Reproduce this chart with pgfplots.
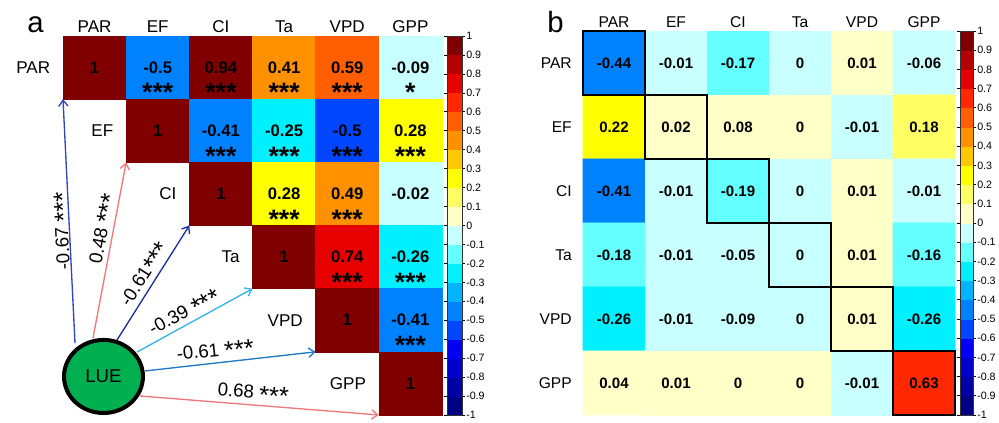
\documentclass[border=0pt]{standalone}
\usepackage{fontspec}
\setmainfont{Liberation Sans}
\usepackage{pgfplots}
\pgfplotsset{compat=1.18}
\usepackage{pgfplotstable}
\usetikzlibrary{arrows.meta}

\definecolor{lueGreen}{RGB}{0,176,80}
\definecolor{arA}{RGB}{50,70,190}
\definecolor{arB}{RGB}{240,120,120}
\definecolor{arC}{RGB}{30,45,160}
\definecolor{arD}{RGB}{50,180,235}
\definecolor{arE}{RGB}{30,120,200}

\pgfplotsset{
  colormap={corr}{
    rgb255=(0,0,130)
    rgb255=(0,0,165)
    rgb255=(0,0,205)
    rgb255=(0,0,245)
    rgb255=(0,70,255)
    rgb255=(0,130,255)
    rgb255=(0,180,255)
    rgb255=(0,240,255)
    rgb255=(100,255,255)
    rgb255=(200,255,255)
    rgb255=(255,255,200)
    rgb255=(255,255,100)
    rgb255=(255,255,0)
    rgb255=(255,200,0)
    rgb255=(255,145,0)
    rgb255=(255,95,0)
    rgb255=(255,40,0)
    rgb255=(230,0,0)
    rgb255=(180,0,0)
    rgb255=(128,0,0)
  },
  colormap access=piecewise constant,
}

% panel a: x = column, y = row, c = colour value, v = shown value
\pgfplotstableread{
x y c v
0 0 1 1
1 0 -0.45 -0.5
2 0 0.94 0.94
3 0 0.41 0.41
4 0 0.59 0.59
5 0 -0.09 -0.09
1 1 1 1
2 1 -0.41 -0.41
3 1 -0.25 -0.25
4 1 -0.55 -0.5
5 1 0.28 0.28
2 2 1 1
3 2 0.28 0.28
4 2 0.49 0.49
5 2 -0.02 -0.02
3 3 1 1
4 3 0.74 0.74
5 3 -0.26 -0.26
4 4 1 1
5 4 -0.41 -0.41
5 5 1 1
}\tabA

% panel b
\pgfplotstableread{
x y c v
0 0 -0.44 -0.44
1 0 -0.01 -0.01
2 0 -0.17 -0.17
3 0 -0.005 0
4 0 0.01 0.01
5 0 -0.06 -0.06
0 1 0.22 0.22
1 1 0.02 0.02
2 1 0.08 0.08
3 1 0.005 0
4 1 -0.01 -0.01
5 1 0.18 0.18
0 2 -0.41 -0.41
1 2 -0.01 -0.01
2 2 -0.19 -0.19
3 2 -0.005 0
4 2 0.01 0.01
5 2 -0.01 -0.01
0 3 -0.18 -0.18
1 3 -0.01 -0.01
2 3 -0.05 -0.05
3 3 -0.005 0
4 3 0.01 0.01
5 3 -0.16 -0.16
0 4 -0.26 -0.26
1 4 -0.01 -0.01
2 4 -0.09 -0.09
3 4 -0.005 0
4 4 0.01 0.01
5 4 -0.26 -0.26
0 5 0.04 0.04
1 5 0.01 0.01
2 5 0.005 0
3 5 0.005 0
4 5 -0.01 -0.01
5 5 0.63 0.63
}\tabB

\pgfplotsset{
  cbar/.style={
    colorbar,
    colorbar style={
      at={(parent axis.north east)}, anchor=north west, xshift=-4.79pt,
      width=#1, scale only axis,
      y dir=normal, hide x axis=false, hide y axis=false,
      ytick={-1,-0.9,-0.8,-0.7,-0.6,-0.5,-0.4,-0.3,-0.2,-0.1,0,0.1,0.2,0.3,0.4,0.5,0.6,0.7,0.8,0.9,1},
      yticklabels={-1,-0.9,-0.8,-0.7,-0.6,-0.5,-0.4,-0.3,-0.2,-0.1,0,0.1,0.2,0.3,0.4,0.5,0.6,0.7,0.8,0.9,1},
      yticklabel style={font=\fontsize{8}{8}\selectfont, inner xsep=1pt},
      tick align=outside, major tick length=2pt,
      axis line style={black!80, line width=0.6pt},
      tick style={black, line width=0.5pt},
    },
  },
}

\begin{document}
\begin{tikzpicture}
\useasboundingbox (0,0) rectangle (749.25pt,317.25pt);
\node[anchor=base west, font=\fontsize{22}{22}\selectfont, inner sep=0pt] at (20.25pt,292.5pt) {a};
\node[anchor=base west, font=\fontsize{22}{22}\selectfont, inner sep=0pt] at (410.25pt,292.5pt) {b};

% ---------------- panel a ----------------
\begin{axis}[
  at={(47.25pt,6pt)}, anchor=south west, scale only axis,
  width=284.25pt, height=284.25pt,
  xmin=-0.5, xmax=5.5, ymin=-0.5, ymax=5.5, y dir=reverse,
  hide axis, clip=false,
  colormap name=corr, point meta min=-1, point meta max=1,
  cbar=11.25pt,
]
\addplot[scatter, only marks, mark=square*, mark size=23.69pt,
  point meta=explicit,
  scatter/use mapped color={draw=mapped color, fill=mapped color}]
  table[x=x, y=y, meta=c] {\tabA};
\addplot[draw=none, mark=none, point meta=explicit symbolic,
  nodes near coords, nodes near coords align=center,
  every node near coord/.append style={anchor=center, font=\fontsize{12.5}{12.5}\selectfont\bfseries, text=black}]
  table[x=x, y=y, meta=v] {\tabA};
\addplot[draw=none, mark=none, nodes near coords={***},
  every node near coord/.append style={anchor=base, yshift=-25.7pt, inner sep=0pt, font=\fontsize{20}{20}\selectfont\bfseries, text=black}]
  coordinates {(1,0) (2,0) (3,0) (4,0) (2,1) (3,1) (4,1) (5,1) (3,2) (4,2) (4,3) (5,3) (5,4)};
\addplot[draw=none, mark=none, nodes near coords={*},
  every node near coord/.append style={anchor=base, yshift=-25.7pt, inner sep=0pt, font=\fontsize{20}{20}\selectfont\bfseries, text=black}]
  coordinates {(5,0)};

% column labels
\foreach \j/\t in {0/PAR,1/EF,2/CI,3/Ta,4/VPD,5/GPP}{
  \edef\tmp{\noexpand\node[anchor=base, font=\noexpand\fontsize{12.8}{12.8}\noexpand\selectfont, inner sep=0pt, yshift=3pt] at (axis cs:\j,-0.5) {\t};}\tmp
}
% row labels (diagonal)
\foreach \i/\t in {0/PAR,1/EF,2/CI,3/Ta,4/VPD,5/GPP}{
  \edef\tmp{\noexpand\node[anchor=east, font=\noexpand\fontsize{12.8}{12.8}\noexpand\selectfont, inner sep=0pt] at (axis cs:\i-0.7,\i) {\t};}\tmp
}

% arrows from LUE
\begin{scope}[line width=1pt, font=\fontsize{14}{14}\selectfont]
\draw[arA, -{Straight Barb[length=4.5pt,width=7pt]}] (axis cs:-0.31,4.36) -- node[sloped, allow upside down, above=-4pt, pos=0.46, inner sep=1pt, text=black] {-0.67 \raisebox{-3.5pt}{\fontsize{19}{19}\selectfont ***}} (axis cs:-0.5,0.5);
\draw[arB, -{Straight Barb[length=4.5pt,width=7pt]}] (axis cs:-0.025,4.281) -- node[sloped, allow upside down, above=-1pt, pos=0.61, inner sep=1pt, text=black] {0.48 \raisebox{-3.5pt}{\fontsize{19}{19}\selectfont ***}} (axis cs:0.5,1.5);
\draw[arC, -{Straight Barb[length=4.5pt,width=7pt]}] (axis cs:0.355,4.313) -- node[sloped, allow upside down, above=0pt, pos=0.52, inner sep=1pt, text=black] {-0.61\raisebox{-3.5pt}{\fontsize{19}{19}\selectfont ***}} (axis cs:1.5,2.5);
\draw[arD, -{Straight Barb[length=4.5pt,width=7pt]}] (axis cs:0.672,4.503) -- node[sloped, allow upside down, above, pos=0.46, inner sep=1pt, text=black] {-0.39 \raisebox{-3.5pt}{\fontsize{19}{19}\selectfont ***}} (axis cs:2.5,3.5);
\draw[arE, -{Straight Barb[length=4.5pt,width=7pt]}] (axis cs:0.798,4.803) -- node[sloped, allow upside down, above, pos=0.42, inner sep=1pt, text=black] {-0.61 \raisebox{-3.5pt}{\fontsize{19}{19}\selectfont ***}} (axis cs:3.5,4.5);
\draw[arB, -{Straight Barb[length=4.5pt,width=7pt]}] (axis cs:0.719,5.199) -- node[sloped, allow upside down, above, pos=0.47, inner sep=1pt, text=black] {0.68 \raisebox{-3.5pt}{\fontsize{19}{19}\selectfont ***}} (axis cs:4.5,5.5);
\end{scope}
\filldraw[fill=lueGreen, draw=black, line width=3pt] (axis cs:0.141,4.890) ellipse [x radius=29.6pt, y radius=27.4pt];
\node[font=\fontsize{14}{14}\selectfont] at (axis cs:0.141,4.890) {LUE};
\end{axis}

% ---------------- panel b ----------------
\begin{axis}[
  at={(437.25pt,6pt)}, anchor=south west, scale only axis,
  width=279pt, height=288pt,
  xmin=-0.5, xmax=5.5, ymin=-0.5, ymax=5.5, y dir=reverse,
  hide axis, clip=false,
  colormap name=corr, point meta min=-1, point meta max=1,
  cbar=9.75pt,
]
\addplot[matrix plot*, mesh/cols=6, point meta=explicit]
  table[x=x, y=y, meta=c] {\tabB};
\addplot[draw=none, mark=none, point meta=explicit symbolic,
  nodes near coords, nodes near coords align=center,
  every node near coord/.append style={anchor=center, font=\fontsize{11.3}{11.3}\selectfont\bfseries, text=black}]
  table[x=x, y=y, meta=v] {\tabB};
\foreach \i in {0,...,5}{
  \edef\tmp{\noexpand\draw[black, line width=1.1pt] (axis cs:\i-0.5,\i-0.5) rectangle (axis cs:\i+0.5,\i+0.5);}\tmp
}
\foreach \j/\t in {0/PAR,1/EF,2/CI,3/Ta,4/VPD,5/GPP}{
  \edef\tmp{\noexpand\node[anchor=base, font=\noexpand\fontsize{11.7}{11.7}\noexpand\selectfont, inner sep=0pt, yshift=2.25pt] at (axis cs:\j,-0.5) {\t};}\tmp
  \edef\tmp{\noexpand\node[anchor=east, font=\noexpand\fontsize{11.7}{11.7}\noexpand\selectfont, inner sep=0pt, xshift=-8.25pt] at (axis cs:-0.5,\j) {\t};}\tmp
}
\end{axis}
\end{tikzpicture}
\end{document}
